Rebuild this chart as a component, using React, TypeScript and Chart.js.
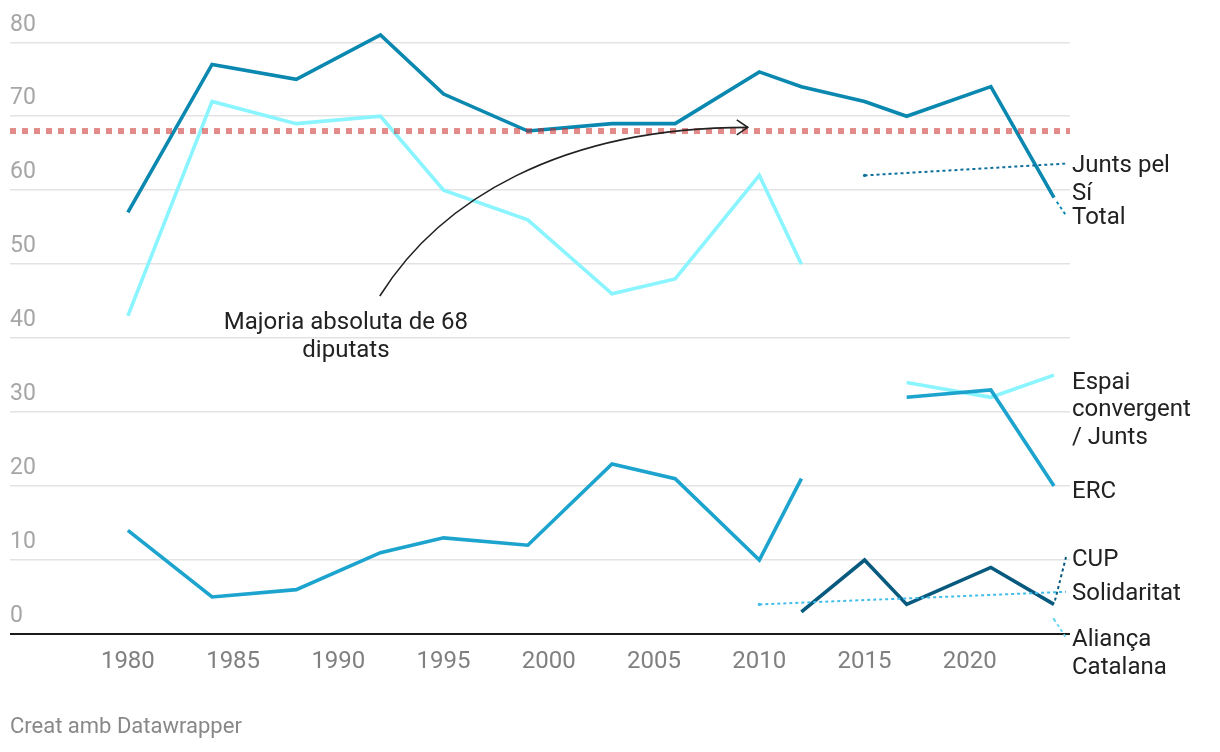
import React, { useEffect, useRef } from "react";
import { Chart, registerables } from "chart.js";

Chart.register(...registerables);

const years = [1980, 1984, 1988, 1992, 1995, 1999, 2003, 2006, 2010, 2012, 2015, 2017, 2021, 2024];
const total = [57, 77, 75, 81, 73, 68, 69, 69, 76, 74, 72, 70, 74, 59];
const espaiConvergent = [43, 72, 69, 70, 60, 56, 46, 48, 62, 50, null, 34, 32, 35];
const erc = [14, 5, 6, 11, 13, 12, 23, 21, 10, 21, null, 32, 33, 20];
const cup = [null, null, null, null, null, null, null, null, null, 3, 10, 4, 9, 4];
const juntsPelSi = [null, null, null, null, null, null, null, null, null, null, 62, null, null, null];
const solidaritat = [null, null, null, null, null, null, null, null, 4, null, null, null, null, null];
const aliancaCatalana = [null, null, null, null, null, null, null, null, null, null, null, null, null, 2];

const xTicks = [1980, 1985, 1990, 1995, 2000, 2005, 2010, 2015, 2020];
const yTicks = [0, 10, 20, 30, 40, 50, 60, 70, 80];
const majority = 68;
const annotationLines = ["Majoria absoluta de 68", "diputats"];
const footer = "Creat amb Datawrapper";

const FONT = "Roboto, 'Noto Sans', sans-serif";

type Series = {
  key: string;
  values: (number | null)[];
  color: string;
  width: number;
  lines: string[];
  labelY: number;
  connector: boolean;
  gap: number;
  dot: number;
};

const series: Series[] = [
  { key: "Total", values: total, color: "#0a88b0", width: 3.6, lines: ["Total"], labelY: 56.6, connector: true, gap: 5, dot: 0 },
  { key: "Espai", values: espaiConvergent, color: "#8af4ff", width: 3.6, lines: ["Espai", "convergent", "/ Junts"], labelY: 34.3, connector: false, gap: 0, dot: 0 },
  { key: "ERC", values: erc, color: "#1ca4ce", width: 3.6, lines: ["ERC"], labelY: 19.5, connector: false, gap: 0, dot: 0 },
  { key: "CUP", values: cup, color: "#075a7e", width: 3.6, lines: ["CUP"], labelY: 10.4, connector: true, gap: 4, dot: 0 },
  { key: "JxSi", values: juntsPelSi, color: "#0e6f9b", width: 3.6, lines: ["Junts pel", "Sí"], labelY: 63.6, connector: true, gap: 0, dot: 1.6 },
  { key: "Solidaritat", values: solidaritat, color: "#40bde9", width: 3.6, lines: ["Solidaritat"], labelY: 5.7, connector: true, gap: 0, dot: 1.6 },
  { key: "Alianca", values: aliancaCatalana, color: "#6ad6f2", width: 3.6, lines: ["Aliança", "Catalana"], labelY: -0.5, connector: true, gap: 0, dot: 1.2 },
];

function lastPoint(values: (number | null)[]) {
  for (let i = values.length - 1; i >= 0; i--) {
    if (values[i] !== null) return { x: years[i], y: values[i] as number };
  }
  return null;
}

const overlayPlugin = {
  id: "overlay",
  afterDatasetsDraw(chart: any) {
    const { ctx, chartArea, scales } = chart;
    const xs = scales.x;
    const ys = scales.y;
    ctx.save();
    ctx.strokeStyle = "rgba(200,32,30,0.52)";
    ctx.lineWidth = 6;
    ctx.setLineDash([6, 6]);
    ctx.lineCap = "butt";
    const my = ys.getPixelForValue(majority);
    ctx.beginPath();
    ctx.moveTo(chartArea.left, my);
    ctx.lineTo(chartArea.right, my);
    ctx.stroke();
    ctx.setLineDash([]);

    const p0 = { x: xs.getPixelForValue(1991.97), y: ys.getPixelForValue(45.7) };
    const c1 = { x: xs.getPixelForValue(1994.82), y: ys.getPixelForValue(58.6) };
    const c2 = { x: xs.getPixelForValue(2000.52), y: ys.getPixelForValue(68.5) };
    const p1 = { x: xs.getPixelForValue(2009.45), y: ys.getPixelForValue(68.5) };
    ctx.strokeStyle = "#222";
    ctx.lineWidth = 1.6;
    ctx.beginPath();
    ctx.moveTo(p0.x, p0.y);
    ctx.bezierCurveTo(c1.x, c1.y, c2.x, c2.y, p1.x, p1.y);
    ctx.stroke();
    ctx.beginPath();
    ctx.moveTo(p1.x - 11, p1.y - 7.5);
    ctx.lineTo(p1.x, p1.y);
    ctx.lineTo(p1.x - 11, p1.y + 7.5);
    ctx.stroke();

    ctx.fillStyle = "#222";
    ctx.font = `24px ${FONT}`;
    ctx.textAlign = "center";
    ctx.textBaseline = "middle";
    const ax = xs.getPixelForValue(1990.36);
    ctx.fillText(annotationLines[0], ax, ys.getPixelForValue(42.3) + 1.5);
    ctx.fillText(annotationLines[1], ax, ys.getPixelForValue(38.5) + 1.5);

    const labelX = chartArea.right + 2;
    series.forEach((s) => {
      const lp = lastPoint(s.values);
      if (!lp) return;
      const px = xs.getPixelForValue(lp.x);
      const py = ys.getPixelForValue(lp.y);
      const ly = ys.getPixelForValue(s.labelY);
      if (s.connector) {
        const ex = labelX - 6;
        const dx = ex - px;
        const dy = ly - py;
        const len = Math.hypot(dx, dy);
        const sx = px + (dx / len) * s.gap;
        const sy = py + (dy / len) * s.gap;
        ctx.strokeStyle = s.color;
        ctx.lineWidth = 2;
        ctx.setLineDash([3, 3]);
        ctx.beginPath();
        ctx.moveTo(sx, sy);
        ctx.lineTo(ex, ly);
        ctx.stroke();
        ctx.setLineDash([]);
      }
      ctx.fillStyle = "#222";
      ctx.font = `24px ${FONT}`;
      ctx.textAlign = "left";
      ctx.textBaseline = "middle";
      s.lines.forEach((t, i) => ctx.fillText(t, labelX, ly + 2.5 + i * 27.5));
    });

    ctx.fillStyle = "#888";
    ctx.font = `22px ${FONT}`;
    ctx.textAlign = "left";
    ctx.textBaseline = "middle";
    ctx.fillText(footer, 10, 727);
    ctx.restore();
  },
};

export default function App() {
  const ref = useRef<HTMLCanvasElement | null>(null);
  useEffect(() => {
    if (!ref.current) return;
    const datasets = series.map((s) => ({
      label: s.key,
      data: years.map((y, i) => ({ x: y, y: s.values[i] })),
      borderColor: s.color,
      backgroundColor: s.color,
      borderWidth: s.width,
      pointRadius: s.dot,
      pointBorderWidth: 0,
      pointHoverRadius: 0,
      spanGaps: false,
      tension: 0,
      borderJoinStyle: "miter" as const,
      clip: false as any,
    }));
    const chart = new Chart(ref.current, {
      type: "line",
      data: { datasets: datasets.reverse() as any },
      options: {
        animation: false,
        responsive: true,
        maintainAspectRatio: false,
        layout: { padding: { top: 5, right: 150, left: 0, bottom: 0 } },
        plugins: { legend: { display: false }, tooltip: { enabled: false } },
        scales: {
          x: {
            type: "linear",
            min: 1974.4,
            max: 2024.76,
            afterBuildTicks: (scale: any) => {
              scale.ticks = xTicks.map((v) => ({ value: v }));
            },
            afterFit: (scale: any) => {
              scale.height = 118;
            },
            grid: { display: false, drawTicks: false },
            border: { display: false },
            ticks: {
              color: "#808080",
              font: { family: FONT, size: 24 },
              padding: 14,
              maxRotation: 0,
              callback: (v: any) => String(v),
            },
          },
          y: {
            type: "linear",
            min: 0,
            max: 83.85,
            afterBuildTicks: (scale: any) => {
              scale.ticks = yTicks.map((v) => ({ value: v }));
            },
            afterFit: (scale: any) => {
              scale.width = 10;
            },
            grid: {
              drawTicks: false,
              color: (c: any) => (c.tick && c.tick.value === 0 ? "#1a1a1a" : "#e3e3e3"),
              lineWidth: (c: any) => (c.tick && c.tick.value === 0 ? 2 : 1.5),
            },
            border: { display: false },
            ticks: {
              mirror: true,
              padding: 0,
              labelOffset: -17.5,
              color: "#a6a6a6",
              font: { family: FONT, size: 23 },
              callback: (v: any) => String(v),
            },
          },
        },
      },
      plugins: [overlayPlugin],
    });
    return () => chart.destroy();
  }, []);
  return (
    <div style={{ position: "fixed", left: 0, top: 0, width: 1220, height: 752 }}>
      <canvas ref={ref} />
    </div>
  );
}
